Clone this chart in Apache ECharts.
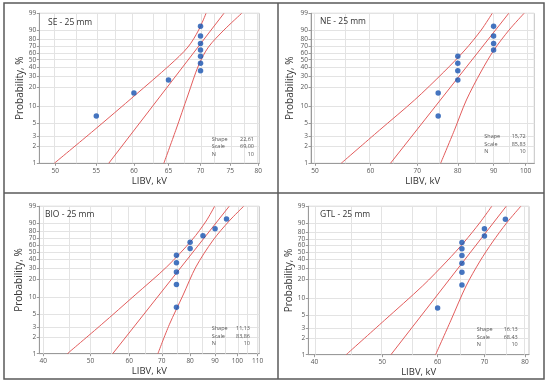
<!DOCTYPE html>
<html><head><meta charset="utf-8">
<script src="https://cdn.jsdelivr.net/npm/echarts@6/dist/echarts.min.js"></script>
<style>html,body{margin:0;padding:0;background:#fff}#c{width:550px;height:386px}</style>
</head><body><div id="c"></div>
<script>
// ---------- shared ----------
const probTicks = [1, 2, 3, 5, 10, 20, 30, 40, 50, 60, 70, 80, 90, 99];
const rankPct = [6.7, 16.3, 26.0, 35.6, 45.2, 54.8, 64.4, 74.0, 83.7, 93.3];
const statNames = ['Shape', 'Scale', 'N'];

// ---------- SE ----------
const seTitle = 'SE - 25 mm';
const seValues = [55, 60, 65, 70, 70, 70, 70, 70, 70, 70];
const seFit = [[56.6, 1], [73.9, 99]];
const seBandLeft = [[49.9, 1], [54.7, 3.8], [60.2, 15.1], [65.2, 42.7], [68.0, 68.7], [69.7, 90.2], [70.9, 99]];
const seBandRight = [[64.3, 1], [66.1, 3.8], [68.0, 15.1], [69.7, 42.7], [71.3, 68.7], [73.9, 90.2], [77.0, 99]];
const seXTicks = [50, 55, 60, 65, 70, 75, 80];
const seXGrid = [50, 52.5, 55, 57.5, 60, 62.5, 65, 67.5, 70, 72.5, 75, 77.5, 80];
const seXRange = [48.2, 80.2];
const seStats = ['22,61', '69,00', '10'];

// ---------- NE ----------
const neTitle = 'NE - 25 mm';
const neValues = [75, 75, 80, 80, 80, 80, 90, 90, 90, 90];
const neFit = [[64.1, 1], [94.6, 99]];
const neBandLeft = [[54.5, 1], [61.8, 3.8], [69.4, 12.5], [76.4, 34.2], [81.9, 64.2], [86.4, 90.2], [89.6, 99]];
const neBandRight = [[75.6, 1], [79.1, 3.8], [82.3, 12.5], [86.3, 34.2], [90.1, 64.2], [94.7, 90.2], [99.5, 99]];
const neXTicks = [50, 60, 70, 80, 90, 100];
const neXGrid = [50, 55, 60, 65, 70, 75, 80, 85, 90, 95, 100];
const neXRange = [49.35, 102.9];
const neStats = ['15,72', '85,83', '10'];

// ---------- BIO ----------
const bioTitle = 'BIO - 25 mm';
const bioValues = [75, 75, 75, 75, 75, 80, 80, 85, 90, 95];
const bioFit = [[55.5, 1], [96.2, 99]];
const bioBandLeft = [[44.8, 1], [52.6, 3.3], [61.7, 10.9], [71.6, 30.9], [80.7, 67.8], [86.3, 91.8], [89.8, 99]];
const bioBandRight = [[68.7, 1], [72.5, 3.3], [77.4, 10.9], [82.2, 30.9], [89.2, 67.8], [96.2, 91.8], [103.0, 99]];
const bioXTicks = [40, 50, 60, 70, 80, 90, 100, 110];
const bioXGrid = [40, 45, 50, 55, 60, 65, 70, 75, 80, 85, 90, 95, 100, 105, 110];
const bioXRange = [39.25, 110.9];
const bioStats = ['11,13', '83,86', '10'];

// ---------- GTL ----------
const gtlTitle = 'GTL - 25 mm';
const gtlValues = [60, 65, 65, 65, 65, 65, 65, 70, 70, 75];
const gtlFit = [[51.45, 1], [75.2, 99]];
const gtlBandLeft = [[44.4, 1], [50.4, 4.1], [57.1, 15.8], [61.9, 38.2], [65.5, 65.2], [68.9, 90.1], [71.7, 99]];
const gtlBandRight = [[59.6, 1], [62.7, 4.1], [65.9, 15.8], [69.0, 38.2], [71.9, 65.2], [75.3, 90.1], [78.9, 99]];
const gtlXTicks = [40, 50, 60, 70, 80];
const gtlXGrid = [40, 45, 50, 55, 60, 65, 70, 75, 80];
const gtlXRange = [39.2, 81.06];
const gtlStats = ['16.13', '68.43', '10'];

// ---------- probability-paper transforms (Weibull) ----------
const W = p => Math.log(-Math.log(1 - p / 100));
const L = v => Math.log(v);
const tr = a => [L(a[0]), W(a[1])];

const panels = [
  {title: seTitle, values: seValues, fit: seFit, bl: seBandLeft, br: seBandRight, ticks: seXTicks, grid: seXGrid, range: seXRange, stats: seStats,
   box: {left: 39.3, top: 13.3, width: 220, height: 150}, titlePos: [48, 24], statX: [211.7, 254], statY: 139, yName: 20.5},
  {title: neTitle, values: neValues, fit: neFit, bl: neBandLeft, br: neBandRight, ticks: neXTicks, grid: neXGrid, range: neXRange, stats: neStats,
   box: {left: 311, top: 13.3, width: 223.3, height: 150}, titlePos: [320, 23.5], statX: [484.3, 525.7], statY: 136.7, yName: 290},
  {title: bioTitle, values: bioValues, fit: bioFit, bl: bioBandLeft, br: bioBandRight, ticks: bioXTicks, grid: bioXGrid, range: bioXRange, stats: bioStats,
   box: {left: 39.3, top: 206.3, width: 220, height: 147.4}, titlePos: [45, 216.5], statX: [211.7, 250], statY: 328.7, yName: 19.5},
  {title: gtlTitle, values: gtlValues, fit: gtlFit, bl: gtlBandLeft, br: gtlBandRight, ticks: gtlXTicks, grid: gtlXGrid, range: gtlXRange, stats: gtlStats,
   box: {left: 308.3, top: 206.3, width: 220.7, height: 148.4}, titlePos: [320, 216], statX: [476.7, 517.7], statY: 329.7, yName: 290}
];

const FONT = 'Open Sans';
const RED = '#e25c5c';
const BLUE = '#1652b0';
const GRIDC = '#e3e3e3';
const grids = [], xAxes = [], yAxes = [], series = [], graphics = [];

panels.forEach((P, i) => {
  grids.push(Object.assign({show: true, borderColor: '#c4c4c4', borderWidth: 1, backgroundColor: '#fff', outerBoundsMode: 'none', containLabel: false}, P.box));
  const xr = [L(P.range[0]), L(P.range[1])];
  xAxes.push({
    type: 'value', gridIndex: i, position: 'bottom', min: xr[0], max: xr[1],
    name: 'LIBV, kV', nameLocation: 'middle', nameGap: 13,
    nameTextStyle: {fontFamily: FONT, fontSize: 9.5, color: '#333'},
    axisLine: {show: true, onZero: false, lineStyle: {color: '#9a9a9a', width: 1}},
    axisTick: {show: true, length: 2.5, lineStyle: {color: '#9a9a9a'}, customValues: P.ticks.map(L)},
    axisLabel: {show: true, fontFamily: FONT, fontSize: 6.5, color: '#555', margin: 4,
      customValues: P.ticks.map(L), formatter: v => String(Math.round(Math.exp(v)))},
    splitLine: {show: false}
  });
  yAxes.push({
    type: 'value', gridIndex: i, min: W(1), max: W(99),
    name: 'Probability, %', nameLocation: 'middle', nameGap: P.box.left - P.yName - 5,
    nameRotate: 90,
    nameTextStyle: {fontFamily: FONT, fontSize: 10, color: '#333'},
    axisLine: {show: true, onZero: false, lineStyle: {color: '#9a9a9a', width: 1}},
    axisTick: {show: true, length: 2.5, lineStyle: {color: '#9a9a9a'}, customValues: probTicks.map(W)},
    axisLabel: {show: true, fontFamily: FONT, fontSize: 6.5, color: '#555', margin: 3,
      customValues: probTicks.map(W), formatter: v => String(Math.round(100 * (1 - Math.exp(-Math.exp(v)))))},
    splitLine: {show: true, lineStyle: {color: GRIDC, width: 1}}
  });
  // vertical gridlines at the kV grid values
  series.push({type: 'line', xAxisIndex: i, yAxisIndex: i, data: [], silent: true, z: 1, animation: false,
    markLine: {silent: true, z: 1, symbol: ['none', 'none'], label: {show: false}, animation: false,
      lineStyle: {color: GRIDC, width: 1, type: 'solid'}, emphasis: {disabled: true},
      data: P.grid.map(v => ({xAxis: L(v)}))}});
  const lineBase = {type: 'line', xAxisIndex: i, yAxisIndex: i, showSymbol: false, symbol: 'none', z: 3,
    lineStyle: {color: RED, width: 1}, silent: true, animation: false};
  series.push(Object.assign({}, lineBase, {data: P.bl.map(tr), smooth: 0.3}));
  series.push(Object.assign({}, lineBase, {data: P.fit.map(tr)}));
  series.push(Object.assign({}, lineBase, {data: P.br.map(tr), smooth: 0.3}));
  series.push({type: 'scatter', xAxisIndex: i, yAxisIndex: i, symbol: 'circle', symbolSize: 5.5, z: 6,
    itemStyle: {color: BLUE}, animation: false,
    data: P.values.map((v, k) => tr([v, rankPct[k]]))});

  graphics.push({type: 'text', z: 20, left: P.titlePos[0], top: P.titlePos[1] - 6,
    style: {text: P.title, fontFamily: FONT, fontSize: 8.5, fill: '#333'}});
  statNames.forEach((nm, r) => {
    const y = P.statY + r * 7.5;
    graphics.push({type: 'text', z: 20, x: P.statX[0], y: y, style: {text: nm, fontFamily: FONT, fontSize: 5.5, fill: '#555', align: 'left', verticalAlign: 'middle'}});
    graphics.push({type: 'text', z: 20, x: P.statX[1], y: y, style: {text: P.stats[r], fontFamily: FONT, fontSize: 5.5, fill: '#555', align: 'right', verticalAlign: 'middle'}});
  });
});

// table frame
const frame = {stroke: '#5a5a5a', lineWidth: 1.5};
graphics.push({type: 'rect', shape: {x: 4, y: 3, width: 540, height: 376}, style: Object.assign({fill: 'none'}, frame), z: 10});
graphics.push({type: 'line', shape: {x1: 278, y1: 3, x2: 278, y2: 379}, style: frame, z: 10});
graphics.push({type: 'line', shape: {x1: 4, y1: 193, x2: 544, y2: 193}, style: frame, z: 10});

const chart = echarts.init(document.getElementById('c'), null, {renderer: 'canvas'});
chart.setOption({
  animation: false,
  backgroundColor: '#fff',
  grid: grids, xAxis: xAxes, yAxis: yAxes, series: series, graphic: graphics
});
</script></body></html>
